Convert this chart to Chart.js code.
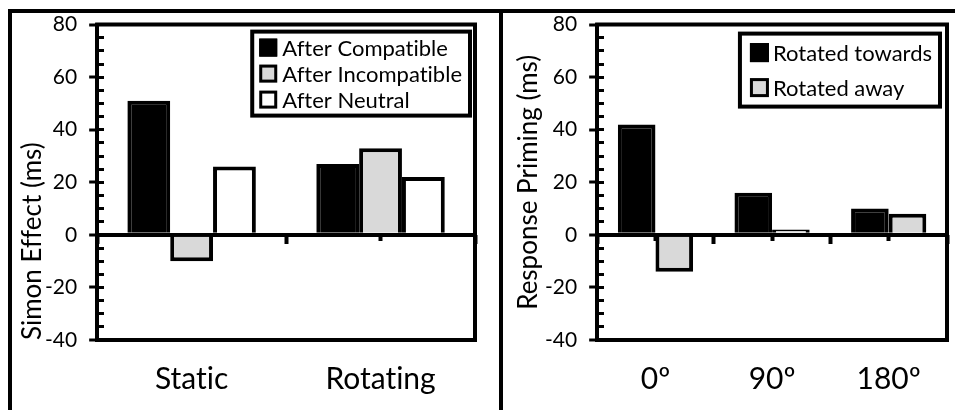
<!DOCTYPE html>
<html>
<head>
<meta charset="utf-8">
<script src="https://cdn.jsdelivr.net/npm/chart.js@4.4.1/dist/chart.umd.min.js"></script>
<style>
  body { margin: 0; background: #fff; }
  #fig { position: relative; width: 955px; height: 410px; overflow: hidden; }
  .line { position: absolute; background: #000; }
  .panel { position: absolute; }
</style>
</head>
<body>
<div id="fig">
  <div class="panel" style="left:12px; top:0px; width:487px; height:410px;"><canvas id="simonChart"></canvas></div>
  <div class="panel" style="left:503px; top:0px; width:452px; height:410px;"><canvas id="primingChart"></canvas></div>
  <div class="line" style="left:8px; top:9px; width:960px; height:4px;"></div>
  <div class="line" style="left:8px; top:9px; width:4px; height:410px;"></div>
  <div class="line" style="left:499px; top:9px; width:4px; height:410px;"></div>
</div>
<script>
// datos
const simonCategorias = ['Static', 'Rotating'];
const afterCompatible = [51, 27];
const afterIncompatible = [-10, 33];
const afterNeutral = [26, 22];

const primingCategorias = ['0º', '90º', '180º'];
const rotatedTowards = [42, 16, 10];
const rotatedAway = [-14, 2, 8];

const yMin = -40;
const yMax = 80;
const yPaso = 20;
const yPasoMenor = 5;

Chart.defaults.font.family = 'Lato';
Chart.defaults.color = '#000';

// sin ligaduras (Lato junta "ti")
const sinLigaduras = {
  id: 'sinLigaduras',
  beforeDraw(chart) {
    chart.ctx.textRendering = 'optimizeSpeed';
  }
};

// borde de arriba y de la derecha del area
const marcoArea = {
  id: 'marcoArea',
  afterDraw(chart) {
    const { ctx, chartArea } = chart;
    ctx.save();
    ctx.strokeStyle = '#000';
    ctx.lineWidth = 4;
    ctx.lineCap = 'square';
    ctx.beginPath();
    ctx.moveTo(chartArea.left, chartArea.top);
    ctx.lineTo(chartArea.right, chartArea.top);
    ctx.lineTo(chartArea.right, chartArea.bottom);
    ctx.stroke();
    ctx.restore();
  }
};

// leyenda con marco dentro del area del grafico
const leyendaMarco = {
  id: 'leyendaMarco',
  afterDraw(chart, args, opts) {
    const { ctx, chartArea } = chart;
    const items = chart.data.datasets;
    ctx.save();
    ctx.font = opts.fontSize + 'px Lato';
    const textoW = Math.max(...items.map(d => ctx.measureText(d.label).width));
    const w = opts.padLeft + opts.box + opts.gap + textoW + opts.padRight;
    const h = opts.rowHeight * items.length + opts.padY * 2;
    const x = chartArea.right - opts.right - w;
    const y = chartArea.top + opts.top;
    ctx.fillStyle = '#fff';
    ctx.fillRect(x, y, w, h);
    ctx.lineWidth = 4;
    ctx.strokeStyle = '#000';
    ctx.strokeRect(x, y, w, h);
    items.forEach((d, i) => {
      const cy = y + opts.padY + opts.rowHeight * (i + 0.5);
      const bx = x + opts.padLeft;
      ctx.fillStyle = d.backgroundColor;
      ctx.fillRect(bx, cy - opts.box / 2, opts.box, opts.box);
      ctx.lineWidth = 3;
      ctx.strokeRect(bx + 1.5, cy - opts.box / 2 + 1.5, opts.box - 3, opts.box - 3);
      ctx.fillStyle = '#000';
      ctx.textBaseline = 'middle';
      ctx.textAlign = 'left';
      ctx.fillText(d.label, bx + opts.box + opts.gap, cy + 1);
    });
    ctx.restore();
  }
};

function crearGrafico(id, categorias, datasets, tituloY, aj) {
  return new Chart(document.getElementById(id), {
    type: 'bar',
    data: {
      labels: categorias,
      datasets: datasets.map(d => ({
        label: d.label,
        data: d.data,
        backgroundColor: d.color,
        borderColor: '#000',
        borderWidth: 4,
        categoryPercentage: aj.catPct,
        barPercentage: 1
      }))
    },
    options: {
      responsive: true,
      maintainAspectRatio: false,
      animation: false,
      layout: { padding: aj.padding },
      plugins: {
        legend: { display: false },
        tooltip: { enabled: false },
        leyendaMarco: aj.leyenda
      },
      scales: {
        x: {
          type: 'category',
          offset: true,
          grid: { display: false, drawTicks: false },
          border: { color: '#000', width: 4 },
          ticks: { font: { size: 30 }, padding: 21 }
        },
        y: {
          min: yMin,
          max: yMax,
          z: 1,
          ticks: { stepSize: yPaso, font: { size: 21 }, padding: 12 },
          grid: {
            color: c => c.tick.value === 0 ? '#000' : 'rgba(0,0,0,0)',
            lineWidth: 4,
            tickColor: '#000',
            tickWidth: 3,
            tickLength: 8
          },
          border: { color: '#000', width: 4 },
          title: {
            display: true,
            text: tituloY,
            align: aj.tituloAlign,
            font: { size: 26, lineHeight: 1 },
            padding: { top: 0, bottom: aj.tituloPad }
          }
        },
        yMenor: {
          axis: 'y',
          type: 'linear',
          position: { x: -0.5 },
          min: yMin,
          max: yMax,
          z: 2,
          ticks: { stepSize: yPasoMenor, display: false },
          grid: { drawOnChartArea: false, color: '#000', tickWidth: 3, tickLength: -7 },
          border: { display: false }
        },
        xLimites: {
          axis: 'x',
          type: 'category',
          position: { y: 0 },
          offset: true,
          z: 2,
          ticks: { display: false },
          grid: { offset: true, drawOnChartArea: false, color: '#000', tickWidth: 4, tickLength: 9 },
          border: { display: false }
        },
        xCentros: {
          axis: 'x',
          type: 'category',
          position: { y: 0 },
          offset: true,
          z: 2,
          ticks: { display: false },
          grid: { offset: false, drawOnChartArea: false, color: '#000', tickWidth: 4, tickLength: 6 },
          border: { display: false }
        }
      }
    },
    plugins: [sinLigaduras, marcoArea, leyendaMarco]
  });
}

document.addEventListener('DOMContentLoaded', () => {
  crearGrafico('simonChart', simonCategorias, [
    { label: 'After Compatible', data: afterCompatible, color: '#000000' },
    { label: 'After Incompatible', data: afterIncompatible, color: '#d9d9d9' },
    { label: 'After Neutral', data: afterNeutral, color: '#ffffff' }
  ], 'Simon Effect (ms)', {
    catPct: 0.68,
    padding: { left: 8, right: 24, top: 0, bottom: -8 },
    tituloAlign: 'start',
    tituloPad: -13,
    leyenda: { fontSize: 22, right: 5, top: 7, rowHeight: 26, padY: 3, padLeft: 7, box: 18, gap: 5, padRight: 8 }
  });

  crearGrafico('primingChart', primingCategorias, [
    { label: 'Rotated towards', data: rotatedTowards, color: '#000000' },
    { label: 'Rotated away', data: rotatedAway, color: '#d9d9d9' }
  ], 'Response Priming (ms)', {
    catPct: 0.645,
    padding: { left: 13, right: 8, top: 0, bottom: -8 },
    tituloAlign: 'center',
    tituloPad: -9,
    leyenda: { fontSize: 22, right: 7, top: 9, rowHeight: 35, padY: 1.5, padLeft: 10, box: 19, gap: 4, padRight: 8 }
  });
});
</script>
</body>
</html>
